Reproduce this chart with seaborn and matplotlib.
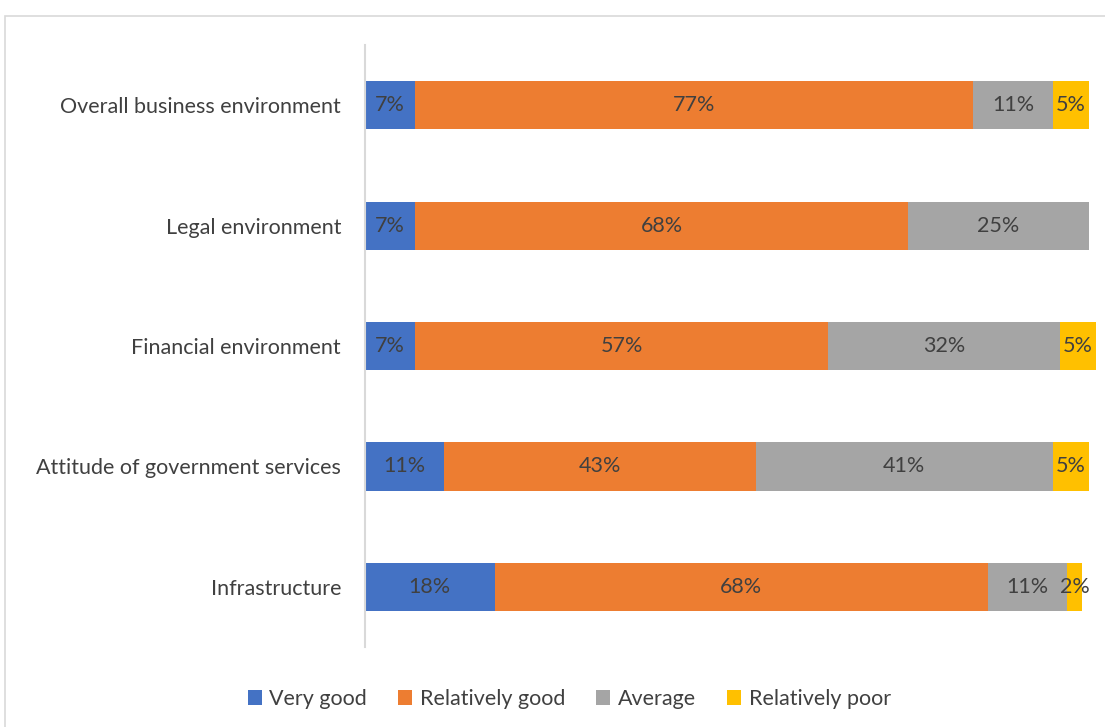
import numpy as np
import pandas as pd
import matplotlib
matplotlib.use("Agg")
import matplotlib.pyplot as plt
from matplotlib.patches import Rectangle, Patch
import seaborn as sns

categories = ["Overall business environment", "Legal environment",
              "Financial environment", "Attitude of government services",
              "Infrastructure"]
very_good = [7, 7, 7, 11, 18]
relatively_good = [77, 68, 57, 43, 68]
average = [11, 25, 32, 41, 11]
relatively_poor = [5, 0, 5, 5, 2]

series_names = ["Very good", "Relatively good", "Average", "Relatively poor"]
series_values = [very_good, relatively_good, average, relatively_poor]
colors = ["#4472C4", "#ED7D31", "#A5A5A5", "#FFC000"]

sns.set_theme(style="white")
plt.rcParams["font.family"] = ["Lato", "DejaVu Sans"]

text_color = "#404040"
fs = 15.5
fig = plt.figure(figsize=(11.05, 7.27), dpi=100)
ax = fig.add_axes([0.330, 0.110, 0.6555, 0.828])

vals = np.array(series_values, dtype=float)
cum = np.cumsum(vals, axis=0)

# stacked bars: draw cumulative totals from the widest down
for i in range(len(series_names) - 1, -1, -1):
    df = pd.DataFrame({"category": categories, "value": cum[i]})
    sns.barplot(data=df, x="value", y="category", orient="h",
                color=colors[i], width=0.4, saturation=1, ax=ax,
                edgecolor="none", linewidth=0)

for p in ax.patches:
    p.set_clip_on(False)

# value labels at the centre of each segment
starts = cum - vals
for i in range(len(series_names)):
    for j in range(len(categories)):
        v = vals[i, j]
        if v <= 0:
            continue
        ax.text(starts[i, j] + v / 2, j, f"{int(v)}%", ha="center",
                va="center", fontsize=fs, color=text_color)

ax.set_xlim(0, 100)
ax.set_ylim(len(categories) - 0.5, -0.5)
ax.set_xlabel("")
ax.set_ylabel("")
ax.set_xticks([])
ax.tick_params(axis="y", length=0, pad=17, labelsize=fs, labelcolor=text_color)
for s in ["top", "right", "bottom"]:
    ax.spines[s].set_visible(False)
ax.spines["left"].set_color("#d9d9d9")
ax.spines["left"].set_linewidth(1.5)

handles = [Patch(facecolor=c, edgecolor="none") for c in colors]
fig.legend(handles, series_names, loc="center", bbox_to_anchor=(0.515, 0.0385),
           ncol=4, frameon=False, fontsize=fs, handlelength=0.65,
           handleheight=0.65, handletextpad=0.35, columnspacing=1.45,
           labelcolor=text_color)

# chart area border
fig.patches.append(Rectangle((5 / 1105, -0.1), 1.2, 0.1 + (1 - 16 / 727),
                             transform=fig.transFigure, fill=False,
                             edgecolor="#d9d9d9", linewidth=1.2))

fig.savefig("out.png", dpi=100)
